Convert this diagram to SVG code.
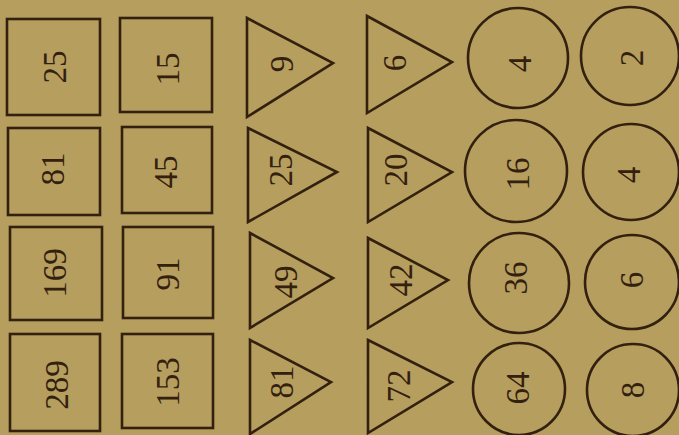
<svg xmlns="http://www.w3.org/2000/svg" width="679" height="435" viewBox="0 0 679 435">
<style>
.bg{fill:#b59e5e}
.s{fill:none;stroke:#33200f;stroke-width:2.6;stroke-linejoin:miter}
.t{fill:#33200f;font-family:"Liberation Serif","DejaVu Serif",serif;font-size:33px;text-anchor:middle;dominant-baseline:central}
</style>
<rect class="bg" x="0" y="0" width="679" height="435"/>
<g id="squares">
<g id="sq-25"><rect class="s" x="7" y="19" width="93" height="96"/><text class="t" transform="translate(55,67) rotate(-90)">25</text></g>
<g id="sq-81"><rect class="s" x="8" y="128" width="92" height="87"/><text class="t" transform="translate(53,169) rotate(-90)">81</text></g>
<g id="sq-169"><rect class="s" x="10" y="227" width="92" height="93"/><text class="t" transform="translate(55,273) rotate(-90)">169</text></g>
<g id="sq-289"><rect class="s" x="10" y="334" width="90" height="97"/><text class="t" transform="translate(57,385) rotate(-90)">289</text></g>
<g id="sq-15"><rect class="s" x="120" y="18" width="92" height="94"/><text class="t" transform="translate(168,69) rotate(-90)">15</text></g>
<g id="sq-45"><rect class="s" x="122" y="127" width="90" height="86"/><text class="t" transform="translate(166,172) rotate(-90)">45</text></g>
<g id="sq-91"><rect class="s" x="123" y="227" width="90" height="91"/><text class="t" transform="translate(168,274) rotate(-90)">91</text></g>
<g id="sq-153"><rect class="s" x="122" y="334" width="91" height="94"/><text class="t" transform="translate(168,382) rotate(-90)">153</text></g>
</g>
<g id="triangles">
<g id="tr-9"><polygon class="s" points="247,18 333,63 247,117"/><text class="t" transform="translate(282,64) rotate(-90)">9</text></g>
<g id="tr-25"><polygon class="s" points="248,128 337,172 248,222"/><text class="t" transform="translate(281,170) rotate(-90)">25</text></g>
<g id="tr-49"><polygon class="s" points="250,233 333,278 250,328"/><text class="t" transform="translate(286,282) rotate(-90)">49</text></g>
<g id="tr-81"><polygon class="s" points="250,340 331,382 250,434"/><text class="t" transform="translate(282,382) rotate(-90)">81</text></g>
<g id="tr-6"><polygon class="s" points="367,16 452,62 367,113"/><text class="t" transform="translate(395,63) rotate(-90)">6</text></g>
<g id="tr-20"><polygon class="s" points="368,128 452,172 368,222"/><text class="t" transform="translate(396,170) rotate(-90)">20</text></g>
<g id="tr-42"><polygon class="s" points="368,238 448,280 368,328"/><text class="t" transform="translate(401,280) rotate(-90)">42</text></g>
<g id="tr-72"><polygon class="s" points="368,340 452,382 368,433"/><text class="t" transform="translate(399,386) rotate(-90)">72</text></g>
</g>
<g id="circles">
<g id="ci-4a"><circle class="s" cx="518" cy="58" r="50"/><text class="t" transform="translate(520,64) rotate(-90)">4</text></g>
<g id="ci-16"><circle class="s" cx="516" cy="171" r="51"/><text class="t" transform="translate(518,174) rotate(-90)">16</text></g>
<g id="ci-36"><circle class="s" cx="519" cy="283" r="50"/><text class="t" transform="translate(516,278) rotate(-90)">36</text></g>
<g id="ci-64"><circle class="s" cx="519" cy="389" r="46"/><text class="t" transform="translate(518,388) rotate(-90)">64</text></g>
<g id="ci-2"><circle class="s" cx="630" cy="56" r="49"/><text class="t" transform="translate(632,58) rotate(-90)">2</text></g>
<g id="ci-4b"><circle class="s" cx="631" cy="172" r="48"/><text class="t" transform="translate(629,175) rotate(-90)">4</text></g>
<g id="ci-6"><circle class="s" cx="632" cy="282" r="47"/><text class="t" transform="translate(632,280) rotate(-90)">6</text></g>
<g id="ci-8"><circle class="s" cx="633" cy="390" r="46"/><text class="t" transform="translate(633,390) rotate(-90)">8</text></g>
</g>
</svg>
